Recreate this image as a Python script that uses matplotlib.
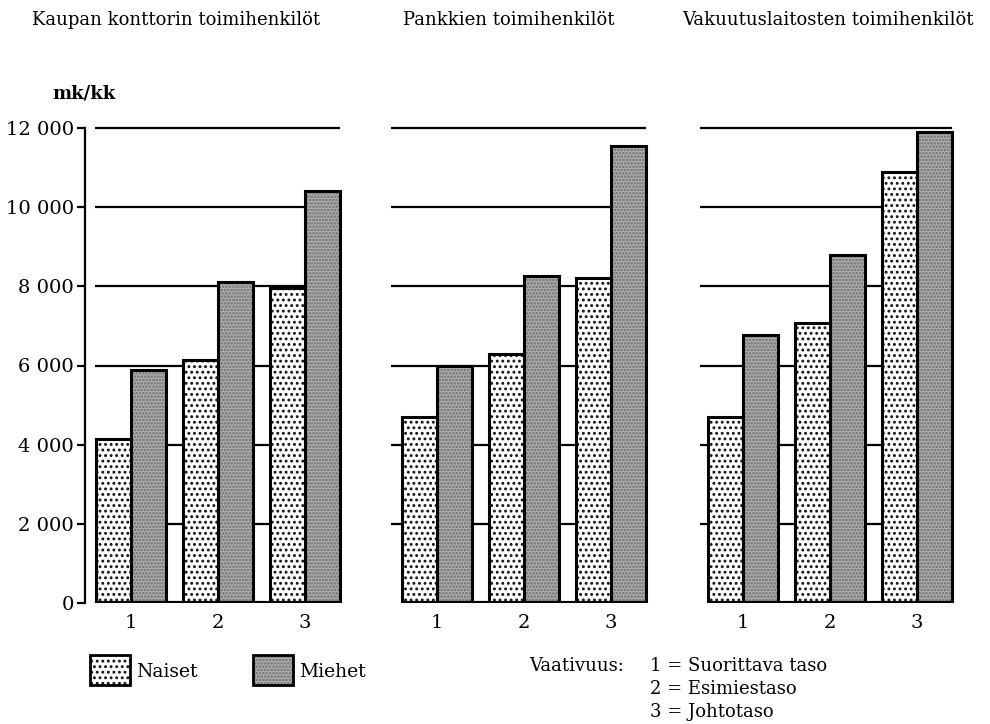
import matplotlib
matplotlib.use("Agg")
import matplotlib.pyplot as plt
from matplotlib.patches import Rectangle
import numpy as np

plt.rcParams["font.family"] = "serif"
plt.rcParams["font.serif"] = ["DejaVu Serif", "Liberation Serif"]
plt.rcParams["hatch.linewidth"] = 1.3

# data (mk/kk)
titles = ["Kaupan konttorin toimihenkilöt", "Pankkien toimihenkilöt",
          "Vakuutuslaitosten toimihenkilöt"]
levels = ["1", "2", "3"]
naiset = [[4150, 6130, 7950], [4700, 6300, 8200], [4700, 7080, 10900]]
miehet = [[5880, 8100, 10400], [6000, 8250, 11550], [6780, 8800, 11900]]
yticks = [0, 2000, 4000, 6000, 8000, 10000, 12000]
ytick_labels = ["0", "2 000", "4 000", "6 000", "8 000", "10 000", "12 000"]

W, H = 990, 724
fig = plt.figure(figsize=(9.9, 7.24), dpi=100)

unit = 87.0          # px per group
c1 = [131, 437, 743]  # px centre of group 1 in each panel
grid_from = [0.59, 0.45, 0.50]
title_x = [32, 403, 682]
ylo, yhi = 0, 12500
y0px, y12px = 603, 128
hpx = (y0px - y12px) * yhi / 12000.0
bw = 0.4

x = np.arange(1, 4)

for i in range(3):
    left = c1[i] - 0.53 * unit
    ax = fig.add_axes([left / W, 1 - y0px / H, 3.0 * unit / W, hpx / H])
    ax.set_xlim(0.47, 3.47)
    ax.set_ylim(ylo, yhi)
    for s in ax.spines.values():
        s.set_visible(False)
    # grid lines
    for t in yticks[1:]:
        ax.plot([grid_from[i], 3.4], [t, t], color="black", lw=1.6, zorder=1,
                solid_capstyle="butt")
    # bars: texture then outline
    ax.bar(x - bw / 2, naiset[i], bw, facecolor="white", edgecolor="#111111",
           hatch="...", lw=0, zorder=2)
    ax.bar(x + bw / 2, miehet[i], bw, facecolor="#b0b0b0", edgecolor="#6a6a6a",
           hatch=".....", lw=0, zorder=2)
    ax.bar(x - bw / 2, naiset[i], bw, facecolor="none", edgecolor="black",
           lw=2.2, zorder=3)
    ax.bar(x + bw / 2, miehet[i], bw, facecolor="none", edgecolor="black",
           lw=2.2, zorder=3)
    ax.plot([1 - bw, 3 + bw], [0, 0], color="black", lw=3, zorder=4,
            solid_capstyle="butt")
    ax.set_xticks(x)
    ax.set_xticklabels(levels, fontsize=14)
    ax.tick_params(axis="x", length=0, pad=8)
    if i == 0:
        ax.spines["left"].set_visible(True)
        ax.spines["left"].set_bounds(0, 12000)
        ax.spines["left"].set_linewidth(1.6)
        ax.set_yticks(yticks)
        ax.set_yticklabels(ytick_labels, fontsize=14)
        ax.tick_params(axis="y", length=6, width=1.6, pad=2)
    else:
        ax.set_yticks([])
    fig.text(title_x[i] / W, 1 - 20 / H, titles[i], fontsize=13,
             ha="left", va="center")

fig.text(52 / W, 1 - 93 / H, "mk/kk", fontsize=13, weight="bold",
         ha="left", va="center")

# legend
for bx, fc, ec, h, lab in [(90, "white", "#111111", "...", "Naiset"),
                           (253, "#b0b0b0", "#6a6a6a", ".....", "Miehet")]:
    fig.patches.append(Rectangle((bx / W, 1 - 685 / H), 40 / W, 30 / H,
                                 transform=fig.transFigure, facecolor=fc,
                                 edgecolor=ec, hatch=h, lw=0))
    fig.patches.append(Rectangle((bx / W, 1 - 685 / H), 40 / W, 30 / H,
                                 transform=fig.transFigure, facecolor="none",
                                 edgecolor="black", lw=2))
    fig.text((bx + 46) / W, 1 - 672 / H, lab, fontsize=13.5, ha="left",
             va="center")

fig.text(529 / W, 1 - 666 / H, "Vaativuus:", fontsize=13, ha="left", va="center")
for k, s in enumerate(["1 = Suorittava taso", "2 = Esimiestaso", "3 = Johtotaso"]):
    fig.text(650 / W, 1 - (666 + 23 * k) / H, s, fontsize=13, ha="left",
             va="center")

fig.savefig("out.png", dpi=100)
